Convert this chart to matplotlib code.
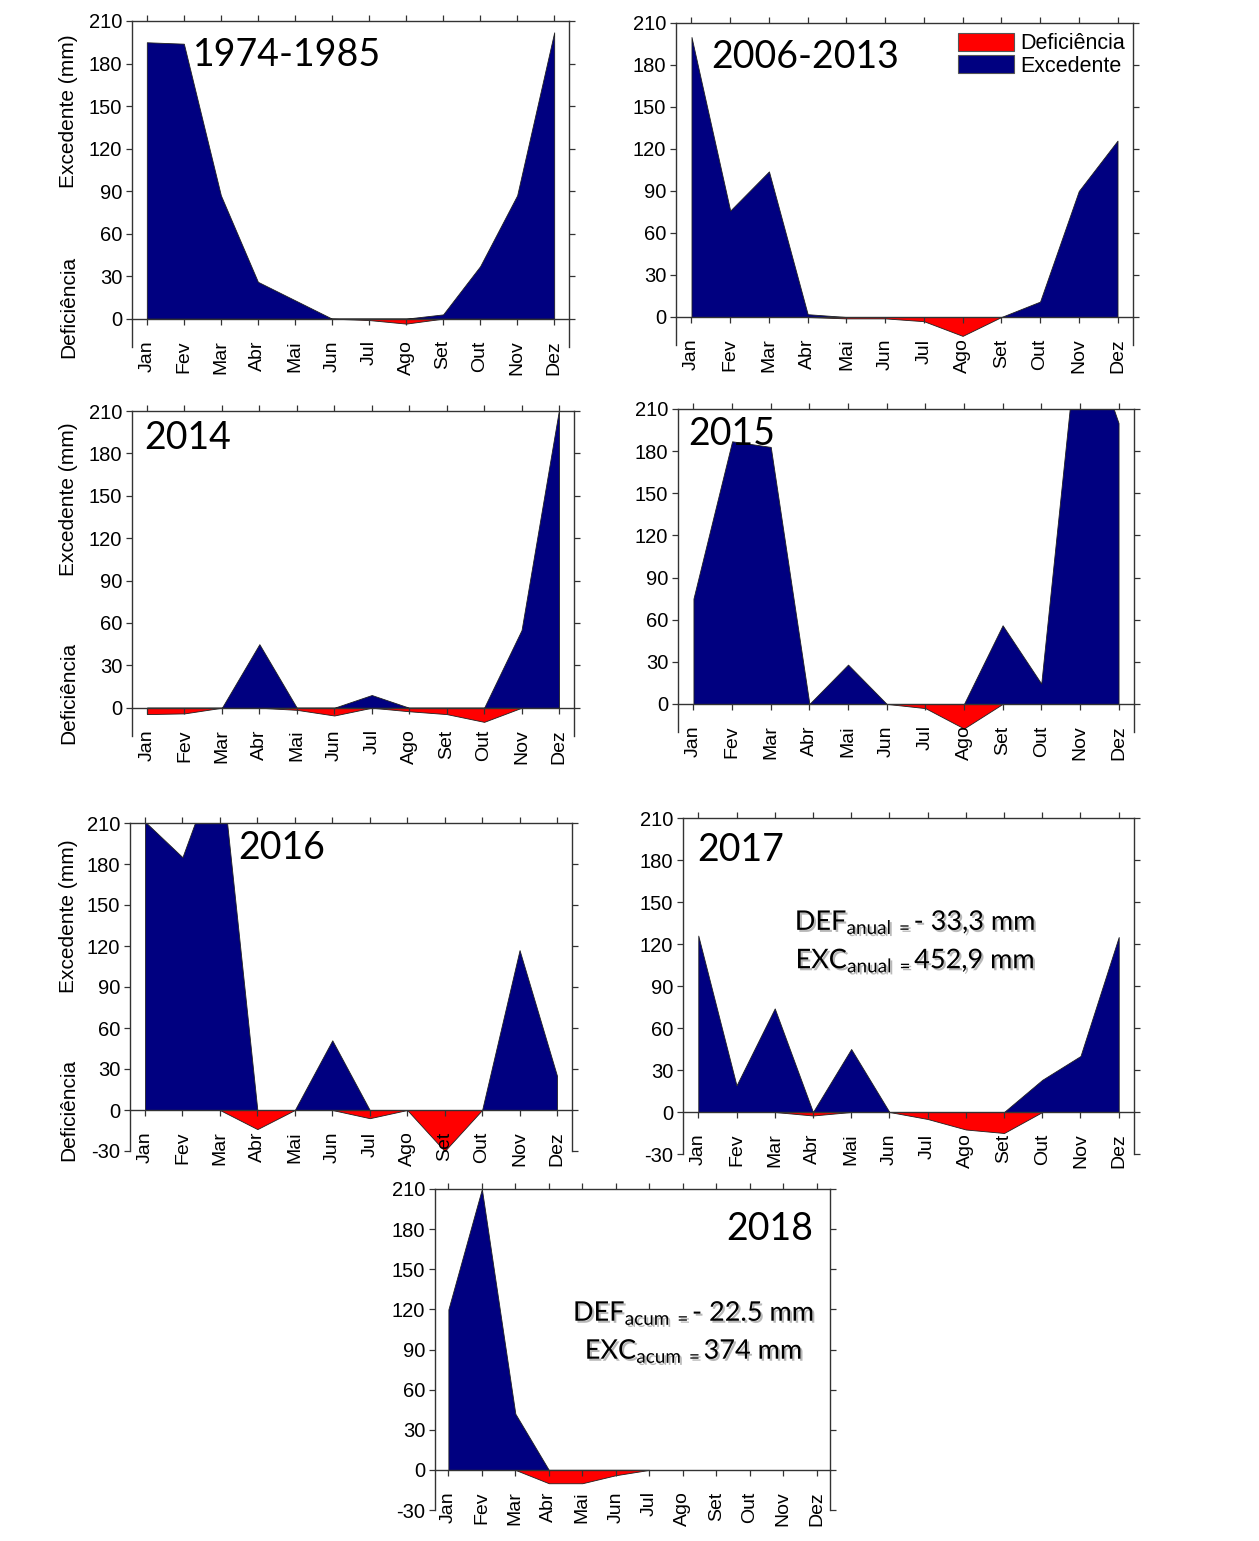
import matplotlib

matplotlib.use("Agg")
import matplotlib.pyplot as plt
import matplotlib.patheffects as pe
from matplotlib.patches import Patch

plt.rcParams["font.family"] = ["Liberation Sans", "DejaVu Sans"]
plt.rcParams["mathtext.fontset"] = "custom"
plt.rcParams["mathtext.rm"] = "Lato"
plt.rcParams["mathtext.it"] = "Lato:italic"
plt.rcParams["axes.unicode_minus"] = False

# data (mm per month)
months = list(range(1, 13))
month_labels = ["Jan", "Fev", "Mar", "Abr", "Mai", "Jun",
                "Jul", "Ago", "Set", "Out", "Nov", "Dez"]

exc_1974_1985 = [195, 194, 87, 26, 13, 0, 0, 0, 3, 37, 87, 202]
def_1974_1985 = [0, 0, 0, 0, 0, 0, -1, -3.5, 0, 0, 0, 0]

exc_2006_2013 = [200, 76, 104, 2, 0, 0, 0, 0, 0, 11, 90, 126]
def_2006_2013 = [0, 0, 0, 0, -1, -1, -3, -13.5, 0, 0, 0, 0]

exc_2014 = [0, 0, 0, 45, 0, 0, 9, 0, 0, 0, 55, 211]
def_2014 = [-4.5, -4, 0, 0, -1.5, -5.5, 0, -2.5, -4.5, -10, 0, 0]

exc_2015 = [75, 187, 183, 0, 28, 0, 0, 0, 56, 14.5, 280, 200]
def_2015 = [0, 0, 0, 0, 0, 0, -3, -17.5, 0, 0, 0, 0]

exc_2016 = [211, 185, 260, 0, 0, 51, 0, 0, 0, 0, 117, 25]
def_2016 = [0, 0, 0, -14, 0, 0, -6, 0, -30, 0, 0, 0]

exc_2017 = [126, 19, 74, 0, 45, 0, 0, 0, 0, 23, 40, 125]
def_2017 = [0, 0, 0, -2.5, 0, 0, -5, -12.5, -15, 0, 0, 0]

exc_2018 = [120, 210, 42, 0, 0, 0, 0]
def_2018 = [0, 0, 0, -10, -10, -4, 0]

yticks_pos = [0, 30, 60, 90, 120, 150, 180, 210]
yticks_neg = [-30, 0, 30, 60, 90, 120, 150, 180, 210]

RED = "#ff0000"
NAVY = "#000080"
AXC = "#333333"

W, H = 1259, 1541
fig = plt.figure(figsize=(W / 100, H / 100), dpi=100)


def px_axes(x0, x1, y0, y1):
    return fig.add_axes([x0 / W, 1 - y1 / H, (x1 - x0) / W, (y1 - y0) / H])


# (pixel box, ymin, yticks, exc, def, title, title pos, ha)
panels = [
    ((132, 569, 21, 347), -20, yticks_pos, exc_1974_1985, def_1974_1985,
     "1974-1985", (2.25, 186), "left"),
    ((676, 1133, 23, 345), -20, yticks_pos, exc_2006_2013, def_2006_2013,
     "2006-2013", (1.52, 186), "left"),
    ((132, 574, 411, 736), -20, yticks_pos, exc_2014, def_2014,
     "2014", (0.92, 191), "left"),
    ((678, 1134, 409, 732), -20, yticks_pos, exc_2015, def_2015,
     "2015", (0.86, 192), "left"),
    ((130, 572, 823, 1151), -30, yticks_neg, exc_2016, def_2016,
     "2016", (3.48, 192), "left"),
    ((683, 1134, 818, 1154), -30, yticks_neg, exc_2017, def_2017,
     "2017", (0.97, 187), "left"),
    ((435, 830, 1189, 1510), -30, yticks_neg, exc_2018, def_2018,
     "2018", (11.89, 180), "right"),
]

axes = []
for box, ymin, yt, exc, dfc, title, tpos, tha in panels:
    ax = px_axes(*box)
    x = months[: len(exc)]
    ax.fill_between(x, 0, dfc, facecolor=RED, edgecolor="#202020", linewidth=0.6)
    ax.fill_between(x, 0, exc, facecolor=NAVY, edgecolor="#202020", linewidth=0.6)

    ax.set_xlim(0.6, 12.4)
    ax.set_ylim(ymin, 210)
    ax.spines["bottom"].set_position(("data", 0))
    for s in ax.spines.values():
        s.set_color(AXC)
        s.set_linewidth(1.0)

    ax.set_xticks(months)
    ax.set_xticklabels(month_labels, rotation=90, fontsize=14)
    ax.set_yticks(yt)
    ax.tick_params(axis="x", direction="out", top=True, length=4, width=0.9,
                   color=AXC, pad=11.5)
    ax.tick_params(axis="y", direction="out", right=True, length=4, width=0.9,
                   color=AXC, pad=3, labelsize=14.5)

    ax.text(tpos[0], tpos[1], title, ha=tha, va="center", fontsize=27,
            family="Lato")
    ax.patch.set_alpha(0)
    axes.append(ax)

# legend in the 2006-2013 panel
handles = [Patch(facecolor=RED, edgecolor="#555555", linewidth=0.8),
           Patch(facecolor=NAVY, edgecolor="#555555", linewidth=0.8)]
axes[1].legend(handles, ["Deficiência", "Excedente"], loc="upper right",
               bbox_to_anchor=(0.983, 0.969), frameon=False, fontsize=15.5,
               handlelength=2.6, handleheight=0.9, handletextpad=0.3,
               labelspacing=0.05, borderpad=0, borderaxespad=0)

# annual totals
shadow = [pe.withSimplePatchShadow(offset=(1.5, -1.5), shadow_rgbFace="0.45",
                                   alpha=0.5)]
ann = dict(ha="center", va="baseline", fontsize=19.5, family="Lato",
           path_effects=shadow)
axes[5].text(6.68, 130, r"DEF$_{\mathrm{anual\ =}}$- 33,3 mm", **ann)
axes[5].text(6.68, 102.6, r"EXC$_{\mathrm{anual\ =}}$452,9 mm", **ann)
axes[6].text(8.33, 111.4, r"DEF$_{\mathrm{acum\ =}}$- 22.5 mm", **ann)
axes[6].text(8.33, 83, r"EXC$_{\mathrm{acum\ =}}$374 mm", **ann)

# y labels of the left column
for yc_exc, yc_def in [(111, 307), (499, 693), (916, 1110)]:
    fig.text(69 / W, 1 - yc_exc / H, "Excedente (mm)", rotation=90,
             ha="center", va="center", fontsize=15)
    fig.text(69 / W, 1 - yc_def / H, "Deficiência", rotation=90,
             ha="center", va="center", fontsize=15)

fig.savefig("out.png", dpi=100)
